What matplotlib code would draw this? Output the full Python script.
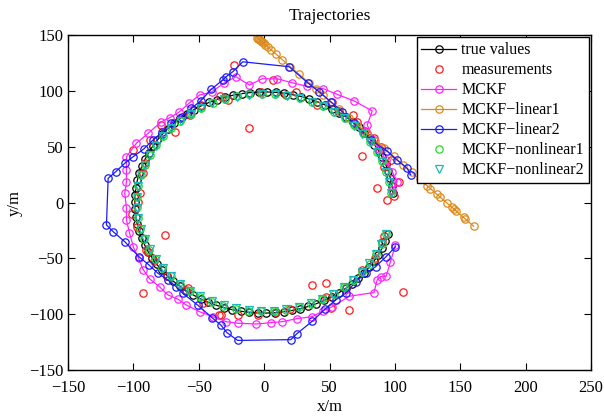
import matplotlib
matplotlib.use('Agg')
import matplotlib.pyplot as plt

# true trajectory
true_x = [98.6, 97.8, 96.6, 95.0, 92.9, 90.4, 87.6, 84.3, 80.7, 76.7,
          72.4, 67.8, 62.8, 57.6, 52.2, 46.5, 40.6, 34.5, 28.3, 21.9,
          15.5, 9.0, 2.4, -4.1, -10.7, -17.2, -23.6, -29.9, -36.1, -42.2,
          -48.0, -53.6, -59.0, -64.2, -69.0, -73.6, -77.8, -81.7, -85.2, -88.4,
          -91.1, -93.5, -95.4, -97.0, -98.1, -98.8, -99.0, -98.8, -98.2, -97.1,
          -95.6, -93.7, -91.4, -88.7, -85.6, -82.1, -78.2, -74.0, -69.5, -64.7,
          -59.6, -54.2, -48.6, -42.8, -36.8, -30.6, -24.3, -17.9, -11.4, -4.8,
          1.7, 8.3, 14.8, 21.3, 27.6, 33.9, 39.9, 45.9, 51.6, 57.1,
          62.3, 67.3, 71.9, 76.3, 80.3, 84.0, 87.2, 90.2, 92.7, 94.8]
true_y = [8.6, 15.1, 21.6, 27.9, 34.2, 40.3, 46.2, 51.9, 57.4, 62.6,
          67.5, 72.2, 76.5, 80.5, 84.1, 87.4, 90.3, 92.8, 94.9, 96.5,
          97.8, 98.6, 99.0, 98.9, 98.4, 97.5, 96.1, 94.4, 92.2, 89.6,
          86.6, 83.2, 79.5, 75.4, 71.0, 66.2, 61.2, 55.9, 50.4, 44.6,
          38.7, 32.6, 26.3, 19.9, 13.4, 6.9, 0.3, -6.2, -12.8, -19.2,
          -25.6, -31.9, -38.0, -44.0, -49.8, -55.4, -60.7, -65.7, -70.5, -74.9,
          -79.1, -82.8, -86.2, -89.3, -91.9, -94.2, -96.0, -97.4, -98.3, -98.9,
          -99.0, -98.7, -97.9, -96.7, -95.1, -93.0, -90.6, -87.7, -84.5, -80.9,
          -76.9, -72.6, -68.0, -63.1, -57.9, -52.5, -46.8, -40.9, -34.8, -28.6]

meas_x = [93.8, 86.4, 99.0, 103.0, 91.5, 97.0, 75.0, 89.0, 84.0, 77.0,
          71.2, 68.0, 57.0, 52.1, 40.7, 24.2, 16.6, 6.4, -2.4, -11.3,
          -22.8, -27.9, -34.0, -48.1, -57.0, -68.5, -78.6, -87.5, -100.2, -91.3,
          -92.6, -95.1, -96.4, -101.0, -76.1, -97.0, -90.1, -88.8, -84.0, -92.6,
          -74.0, -59.6, -58.3, -47.0, -34.2, -32.9, -20.3, -5.0, 9.0, 20.0,
          36.9, 47.1, 47.1, 50.9, 64.9, 62.3, 106.0, 75.0, 85.0, 90.2, 92.0]
meas_y = [2.2, 12.7, 6.0, 18.6, 32.0, 38.0, 42.0, 50.0, 58.0, 64.0,
          72.3, 78.0, 82.0, 89.7, 87.3, 99.2, 96.2, 109.7, 99.2, 66.4,
          123.1, 91.8, 95.0, 87.3, 78.3, 63.4, 69.4, 56.0, 47.0, 35.1,
          26.1, 8.2, 0.7, -10.0, -29.1, -22.0, -42.5, -44.0, -52.0, -81.3,
          -66.0, -78.3, -76.8, -90.0, -100.7, -101.0, -100.7, -101.0, -97.7, -95.0,
          -73.9, -72.4, -84.3, -94.7, -96.2, -76.8, -79.9, -60.0, -50.0, -35.1, -30.0]

mckf_x = [97.9, 101.7, 97.9, 93.0, 88.0, 84.0, 78.8, 82.6, 68.7, 55.9,
          45.0, 33.0, 21.2, 10.2, -1.5, -11.3, -21.5, -31.0, -40.0, -49.4,
          -57.5, -65.0, -72.0, -78.6, -88.8, -97.7, -105.3, -105.3, -105.3, -106.6,
          -105.3, -105.3, -103.0, -100.0, -96.0, -92.6, -87.5, -80.0, -73.6, -66.0,
          -59.6, -49.4, -39.3, -29.1, -20.3, -6.2, 5.2, 14.0, 25.0, 36.9,
          45.0, 52.1, 64.9, 84.0, 86.4, 89.0, 93.3, 96.6, 100.4]
mckf_y = [11.2, 18.6, 27.6, 38.0, 48.0, 56.0, 69.4, 82.0, 91.0, 96.8,
          102.0, 104.0, 107.3, 110.7, 110.8, 105.2, 112.6, 106.7, 99.0, 96.2,
          88.8, 81.0, 76.0, 72.3, 61.9, 53.0, 41.0, 29.1, 18.6, 8.2,
          -5.0, -15.7, -27.0, -40.0, -50.0, -60.0, -68.5, -75.4, -82.8, -86.5,
          -91.8, -97.8, -102.2, -106.7, -108.1, -108.8, -107.6, -106.7, -104.0, -102.2,
          -97.0, -93.3, -84.0, -80.6, -69.4, -66.4, -66.0, -53.0, -38.0]

lin1_x = [-5.5, -4.8, -4.0, -3.2, -2.4, -1.5, -0.5, 0.8, 2.6, 5.0,
          9.0, 14.0, 20.0, 26.8, 34.4, 39.5, 45.0, 50.9, 57.2, 64.9,
          71.0, 78.8, 85.0, 92.0, 99.0, 106.0, 113.0, 119.0, 124.6, 127.1,
          132.1, 134.7, 139.8, 143.6, 145.5, 147.0, 152.5, 153.8, 160.1]
lin1_y = [147.5, 146.8, 146.0, 145.2, 144.3, 143.5, 142.5, 141.2, 139.2, 137.0,
          133.0, 127.8, 121.5, 114.7, 107.0, 101.8, 96.2, 90.2, 83.8, 76.0,
          69.8, 61.8, 55.5, 48.4, 41.2, 34.0, 27.0, 20.8, 15.0, 12.5,
          7.4, 4.7, -0.5, -4.3, -6.2, -7.8, -13.4, -14.7, -21.2]

lin2_x = [112.0, 109.3, 101.7, 94.0, 81.4, 68.7, 59.8, 50.9, 42.0, 33.8,
          19.1, -16.4, -24.0, -29.1, -31.7, -40.5, -48.5, -55.8, -63.0, -71.0,
          -78.0, -85.0, -92.0, -100.2, -106.6, -113.5, -119.3, -120.6, -115.5, -106.6,
          -95.8, -88.0, -81.2, -73.6, -67.2, -62.2, -50.7, -40.0, -32.9, -28.5,
          -20.3, 20.4, 25.0, 36.9, 46.5, 55.0, 62.3, 70.0, 78.0, 85.2,
          92.8, 100.4]
lin2_y = [25.0, 30.6, 38.0, 46.0, 56.0, 70.9, 81.3, 90.2, 99.2, 106.7,
          121.6, 126.0, 117.1, 112.6, 109.7, 101.3, 91.0, 84.3, 77.0, 70.9,
          63.0, 56.0, 48.0, 41.0, 35.1, 27.6, 21.7, -20.1, -26.1, -35.1,
          -48.5, -56.0, -63.4, -69.4, -75.4, -81.3, -92.0, -103.0, -110.0, -116.5,
          -123.5, -122.8, -117.5, -106.2, -95.5, -87.0, -81.3, -71.0, -63.0, -57.5,
          -49.0, -39.6]

nl1_x = [97.1, 95.8, 93.5, 90.3, 86.2, 81.1, 75.3, 68.8, 61.6, 53.7,
         45.3, 36.5, 27.2, 17.8, 8.2, -1.7, -11.4, -20.9, -30.3, -39.5,
         -48.2, -56.3, -64.1, -71.1, -77.4, -83.0, -87.6, -91.4, -94.4, -96.4,
         -97.4, -97.4, -96.5, -94.6, -91.7, -87.9, -83.3, -77.9, -71.5, -64.6,
         -57.0, -48.9, -40.1, -31.1, -21.8, -12.1, -2.4, 7.3, 16.9, 26.5,
         35.7, 44.6, 53.1, 61.0, 68.2, 74.9, 80.8, 85.8, 89.9, 93.2]
nl1_y = [8.5, 18.1, 27.7, 36.8, 45.6, 54.1, 61.9, 69.1, 75.6, 81.4,
         86.3, 90.4, 93.6, 95.9, 97.2, 97.5, 96.8, 95.2, 92.7, 89.1,
         84.8, 79.6, 73.4, 66.7, 59.4, 51.2, 42.7, 33.8, 24.6, 14.9,
         5.3, -4.4, -14.2, -23.8, -33.0, -42.1, -50.7, -58.7, -66.2, -73.0,
         -79.1, -84.4, -88.9, -92.4, -95.0, -96.8, -97.5, -97.2, -96.0, -93.8,
         -90.7, -86.7, -81.8, -76.1, -69.7, -62.5, -54.7, -46.4, -37.6, -28.5]

nl2_x = [96.8, 95.5, 93.2, 90.0, 86.0, 80.8, 75.0, 68.5, 61.3, 53.5,
         45.0, 36.3, 27.0, 17.6, 8.0, -1.9, -11.6, -21.1, -30.5, -39.6,
         -48.0, -56.1, -63.9, -70.9, -77.2, -82.8, -87.4, -91.2, -94.2, -96.1,
         -97.1, -97.1, -96.2, -94.3, -91.4, -87.6, -83.0, -77.6, -71.3, -64.4,
         -56.8, -48.7, -39.9, -30.9, -21.6, -11.9, -2.2, 7.5, 17.0, 26.5,
         35.6, 44.4, 52.9, 60.8, 68.0, 74.6, 80.5, 85.5, 89.6, 92.9]
nl2_y = [8.7, 18.3, 27.6, 36.6, 45.4, 53.9, 61.6, 68.8, 75.3, 81.1,
         86.0, 90.1, 93.3, 95.6, 96.9, 97.2, 96.5, 94.9, 92.4, 88.8,
         84.5, 79.3, 73.2, 66.5, 59.2, 51.0, 42.5, 33.7, 24.5, 14.8,
         5.2, -4.5, -14.1, -23.6, -32.8, -41.9, -50.4, -58.4, -65.9, -72.7,
         -78.8, -84.1, -88.6, -92.1, -94.7, -96.5, -97.2, -96.9, -95.7, -93.5,
         -90.4, -86.4, -81.5, -75.8, -69.4, -62.3, -54.5, -46.2, -37.4, -28.4]

plt.rcParams['font.family'] = ['Liberation Serif', 'DejaVu Serif']

fig = plt.figure(figsize=(6.04, 4.18), dpi=100)
ax = fig.add_axes([0.1126, 0.1148, 0.866, 0.8015])

ms = 5.3
mew = 0.9
lw = 0.9
ax.plot(true_x, true_y, '-o', color='k', lw=lw, ms=ms, mfc='none', mew=mew, label='true values')
ax.plot(meas_x, meas_y, 'o', color='#ff1a1a', ms=ms, mfc='none', mew=mew, label='measurements')
ax.plot(mckf_x, mckf_y, '-o', color='#ff22ff', lw=lw, ms=ms, mfc='none', mew=mew, label='MCKF')
ax.plot(lin1_x, lin1_y, '-o', color='#dd8a1c', lw=lw, ms=ms, mfc='none', mew=mew, label='MCKF\u2212linear1')
ax.plot(lin2_x, lin2_y, '-o', color='#1a1aff', lw=lw, ms=ms, mfc='none', mew=mew, label='MCKF\u2212linear2')
ax.plot(nl1_x, nl1_y, 'o', color='#22dd22', ms=ms, mfc='none', mew=mew, label='MCKF\u2212nonlinear1')
ax.plot(nl2_x, nl2_y, 'v', color='#1cb8b8', ms=ms, mfc='none', mew=mew, label='MCKF\u2212nonlinear2')

ax.set_xlim(-150, 250)
ax.set_ylim(-150, 150)
ax.set_xticks(range(-150, 251, 50))
ax.set_yticks(range(-150, 151, 50))
ax.tick_params(direction='in', top=True, right=True, length=5, width=0.8, labelsize=12)
ax.tick_params(axis='x', pad=7)
for s in ax.spines.values():
    s.set_linewidth(1.0)

ax.set_xlabel('x/m', fontsize=12, labelpad=2)
ax.set_ylabel('y/m', fontsize=12, labelpad=4)
ax.set_title('Trajectories', fontsize=12.5, pad=11)

leg = ax.legend(loc='upper right', fontsize=11.5, frameon=True, fancybox=False,
                edgecolor='k', framealpha=1, borderaxespad=0.15, handlelength=2.2,
                handletextpad=0.3, labelspacing=0.25, borderpad=0.3)
leg.get_frame().set_linewidth(1.0)

fig.savefig('out.png', dpi=100)
